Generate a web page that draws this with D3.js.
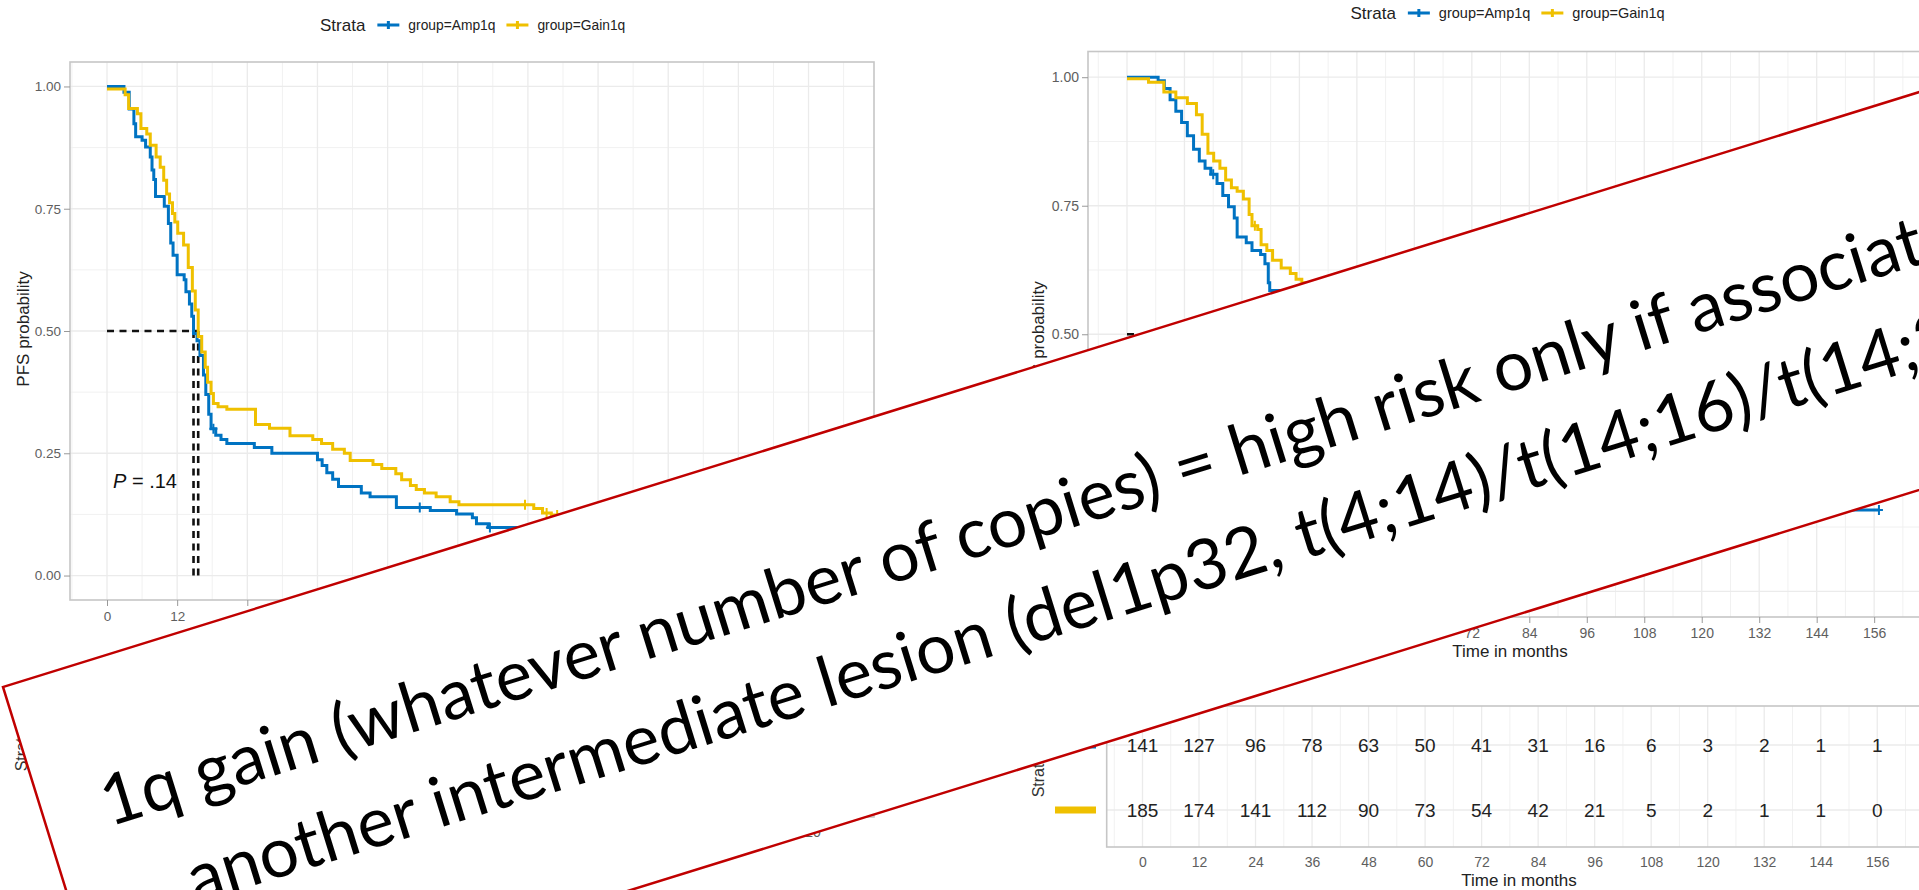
<!DOCTYPE html>
<html>
<head>
<meta charset="utf-8">
<title>PFS - 1q gain</title>
<script src="https://d3js.org/d3.v7.min.js"></script>
<style>
    body { margin: 0; background: #fff; overflow: hidden; }
    svg { display: block; font-family: "Liberation Sans", Arial, sans-serif; }
</style>
</head>
<body>
<svg id="chart" width="1919" height="890"></svg>
<script>
// ---- data ----
const strataLabels = ["group=Amp1q", "group=Gain1q"];
const strataColors = ["#0073C2", "#EFC000"];

const survTicks = [0, 0.25, 0.5, 0.75, 1];
const leftTimeTicks = [0, 12, 24, 36, 48, 60, 72, 84, 96, 108, 120];
const rightTimeTicks = [0, 12, 24, 36, 48, 60, 72, 84, 96, 108, 120, 132, 144, 156];

// left plot (PFS)
const leftAmpTime = [0, 2.9, 3.8, 4.6, 4.9, 6.0, 6.6, 7.4, 7.7, 8.0, 8.3, 9.8, 10.5, 10.9, 11.3, 12.0, 13.2, 13.5, 14.1, 14.5, 14.8, 15.4, 15.9, 16.5, 16.9, 17.4, 17.8, 18.6, 19.5, 20.5, 25.2, 28.2, 36.0, 36.8, 37.6, 38.6, 39.6, 43.5, 45.0, 49.5, 55.3, 59.8, 62.5, 63.2, 65.2, 72];
const leftAmpSurv = [1, 0.988, 0.954, 0.924, 0.897, 0.89, 0.876, 0.856, 0.829, 0.81, 0.775, 0.755, 0.72, 0.68, 0.655, 0.615, 0.605, 0.58, 0.555, 0.53, 0.495, 0.48, 0.45, 0.41, 0.37, 0.33, 0.3, 0.287, 0.278, 0.27, 0.262, 0.25, 0.237, 0.225, 0.21, 0.197, 0.182, 0.169, 0.161, 0.139, 0.133, 0.126, 0.118, 0.106, 0.098, 0.098];
const leftGainTime = [0, 3.1, 3.7, 5.2, 5.8, 6.8, 7.4, 8.4, 9.1, 9.7, 10.2, 10.7, 11.2, 11.6, 12.1, 13.1, 13.9, 14.6, 15.1, 15.6, 16.2, 16.8, 17.2, 17.8, 18.2, 19.0, 20.5, 25.4, 27.8, 31.3, 35.2, 36.7, 38.6, 40.6, 41.6, 45.5, 47.0, 49.4, 50.4, 51.9, 52.9, 54.3, 56.3, 58.7, 60.2, 73.0, 74.5, 76.0, 80];
const leftGainSurv = [0.995, 0.983, 0.955, 0.944, 0.914, 0.903, 0.88, 0.856, 0.835, 0.808, 0.78, 0.762, 0.74, 0.723, 0.70, 0.676, 0.63, 0.582, 0.543, 0.489, 0.457, 0.426, 0.395, 0.372, 0.352, 0.345, 0.34, 0.309, 0.301, 0.286, 0.278, 0.27, 0.258, 0.25, 0.235, 0.227, 0.219, 0.208, 0.196, 0.184, 0.176, 0.169, 0.161, 0.151, 0.145, 0.137, 0.128, 0.124, 0.124];
const leftAmpCensor = [18.2, 53.5, 65.5];
const leftGainCensor = [71.5, 75.2, 77.0];
const leftMedians = [14.8, 15.6];
const leftPValue = ".14";

// right plot (the part under the banner is estimated)
const rightAmpTime = [0, 6.5, 7.8, 9.0, 10.2, 11.4, 12.6, 13.9, 15.1, 16.3, 17.5, 18.8, 20.0, 21.2, 22.4, 23.0, 24.9, 26.1, 27.9, 28.8, 29.5, 29.8, 34, 42, 54, 66, 78, 90, 102, 114, 157];
const rightAmpSurv = [1, 0.993, 0.978, 0.956, 0.934, 0.912, 0.886, 0.86, 0.837, 0.823, 0.811, 0.793, 0.77, 0.748, 0.726, 0.689, 0.678, 0.663, 0.655, 0.637, 0.60, 0.585, 0.5, 0.42, 0.34, 0.28, 0.24, 0.2, 0.18, 0.158, 0.158];
const rightGainTime = [0, 4.5, 7.7, 10.2, 12.6, 14.5, 15.7, 16.9, 18.1, 19.4, 20.6, 21.8, 23.0, 24.3, 25.5, 26.1, 27.3, 28.0, 29.2, 30.4, 32.2, 34.1, 35.3, 36.5, 44, 56, 72, 96, 120, 148];
const rightGainSurv = [0.997, 0.99, 0.971, 0.96, 0.949, 0.927, 0.889, 0.852, 0.837, 0.823, 0.80, 0.785, 0.778, 0.763, 0.733, 0.711, 0.704, 0.674, 0.663, 0.644, 0.629, 0.618, 0.607, 0.60, 0.5, 0.4, 0.3, 0.22, 0.17, 0.17];
const rightAmpCensor = [18.0, 157];
const rightGainCensor = [26.7];
const rightMedians = [34, 44];

// number at risk (right table)
const riskTimes = [0, 12, 24, 36, 48, 60, 72, 84, 96, 108, 120, 132, 144, 156];
const riskAmp = [141, 127, 96, 78, 63, 50, 41, 31, 16, 6, 3, 2, 1, 1];
const riskGain = [185, 174, 141, 112, 90, 73, 54, 42, 21, 5, 2, 1, 1, 0];

const bannerLines = [
    "1q gain (whatever number of copies) = high risk only if associated with",
    "another intermediate lesion (del1p32, t(4;14)/t(14;16)/t(14;20))"
];
// visible part of each line, used to size the text
const bannerFit = [
    "1q gain (whatever number of copies) = high risk only if associat",
    "another intermediate lesion (del1p32, t(4;14)/t(14;16)/t(14;"
];

const svg = d3.select("#chart");
const GRID = "#ebebeb", BORDER = "#c6c6c6", TICKTXT = "#5e5e5e";

function pairs(times, surv) { return times.map((t, i) => [t, surv[i]]); }
function survAt(times, surv, t) {
    const i = d3.bisectRight(times, t) - 1;
    return surv[Math.max(0, i)];
}

function drawKM(o) {
    const x = d3.scaleLinear().domain(o.xDomain).range(o.xRange);
    const y = d3.scaleLinear().domain([-0.05, 1.05]).range(o.yRange);
    const g = svg.append("g");
    const [xl, xr] = o.xRange, [yb, yt] = o.yRange;

    // grid
    const xMinor = d3.range(-6, o.xDomain[1], 12).filter(v => v > o.xDomain[0]);
    const yMinor = [0.125, 0.375, 0.625, 0.875];
    g.selectAll(".vmin").data(xMinor).join("line")
        .attr("x1", d => x(d)).attr("x2", d => x(d)).attr("y1", yt).attr("y2", yb)
        .attr("stroke", "#f1f1f1").attr("stroke-width", 1);
    g.selectAll(".hmin").data(yMinor).join("line")
        .attr("x1", xl).attr("x2", xr).attr("y1", d => y(d)).attr("y2", d => y(d))
        .attr("stroke", "#f1f1f1").attr("stroke-width", 1);
    g.selectAll(".vmaj").data(o.xTicks).join("line")
        .attr("x1", d => x(d)).attr("x2", d => x(d)).attr("y1", yt).attr("y2", yb)
        .attr("stroke", GRID).attr("stroke-width", 1.3);
    g.selectAll(".hmaj").data(survTicks).join("line")
        .attr("x1", xl).attr("x2", xr).attr("y1", d => y(d)).attr("y2", d => y(d))
        .attr("stroke", GRID).attr("stroke-width", 1.3);

    // median lines
    const dash = g.append("g").attr("stroke", "#111").attr("stroke-width", 2.6)
        .attr("stroke-dasharray", "7,5.5").attr("fill", "none");
    dash.append("line").attr("x1", x(0)).attr("x2", x(d3.max(o.medians)))
        .attr("y1", y(0.5)).attr("y2", y(0.5));
    o.medians.forEach(m => {
        dash.append("line").attr("x1", x(m)).attr("x2", x(m))
            .attr("y1", y(0.5)).attr("y2", y(0));
    });

    // curves
    const line = d3.line().curve(d3.curveStepAfter).x(d => x(d[0])).y(d => y(d[1]));
    o.series.forEach((s, i) => {
        g.append("path").datum(pairs(s.time, s.surv))
            .attr("fill", "none").attr("stroke", strataColors[i])
            .attr("stroke-width", 3).attr("d", line);
        g.selectAll(null).data(s.censor).join("path")
            .attr("d", t => {
                const cx = x(t), cy = y(survAt(s.time, s.surv, t));
                return `M${cx},${cy - 5}v10M${cx - 4},${cy}h8`;
            })
            .attr("stroke", strataColors[i]).attr("stroke-width", 2);
    });

    // panel border
    g.append("rect").attr("x", xl).attr("y", yt).attr("width", xr - xl).attr("height", yb - yt)
        .attr("fill", "none").attr("stroke", BORDER).attr("stroke-width", 1.6);

    // axes
    const ay = g.append("g").attr("transform", `translate(${xl},0)`)
        .call(d3.axisLeft(y).tickValues(survTicks).tickFormat(d3.format(".2f")).tickSize(6).tickPadding(3));
    const ax = g.append("g").attr("transform", `translate(0,${yb})`)
        .call(d3.axisBottom(x).tickValues(o.xTicks).tickSize(6).tickPadding(5));
    [ay, ax].forEach(a => {
        a.select(".domain").remove();
        a.selectAll(".tick line").attr("stroke", "#999");
        a.selectAll("text").attr("fill", TICKTXT).attr("font-size", o.tickSize)
            .attr("font-family", "Liberation Sans, Arial, sans-serif");
    });

    g.append("text").attr("transform", `translate(${o.yTitle[0]},${o.yTitle[1]}) rotate(-90)`)
        .attr("text-anchor", "middle").attr("font-size", 17).attr("fill", "#222")
        .text("PFS probability");
    g.append("text").attr("x", o.xTitle[0]).attr("y", o.xTitle[1])
        .attr("text-anchor", "middle").attr("font-size", 17).attr("fill", "#222")
        .text("Time in months");

    // legend
    const lg = g.append("g").attr("font-size", o.legendSize).attr("fill", "#222");
    let cx = o.legend[0];
    const ly = o.legend[1];
    const st = lg.append("text").attr("x", cx).attr("y", ly + 6).attr("font-size", 17).text("Strata");
    cx += st.node().getComputedTextLength() + 12;
    strataLabels.forEach((lab, i) => {
        lg.append("path").attr("d", `M${cx},${ly}h22M${cx + 11},${ly - 4}v8`)
            .attr("stroke", strataColors[i]).attr("stroke-width", 3);
        cx += 31;
        const t = lg.append("text").attr("x", cx).attr("y", ly + 5).text(lab);
        cx += t.node().getComputedTextLength() + 11;
    });

    return { x, y, g };
}

function drawRisk(o) {
    const x = d3.scaleLinear().domain(o.xDomain).range(o.xRange);
    const g = svg.append("g");
    const [xl, xr] = o.xRange, [yt, yb] = o.yRange;
    const xMinor = d3.range(-6, o.xDomain[1], 12).filter(v => v > o.xDomain[0]);
    g.selectAll(".vmin").data(xMinor).join("line")
        .attr("x1", d => x(d)).attr("x2", d => x(d)).attr("y1", yt).attr("y2", yb)
        .attr("stroke", "#f1f1f1");
    g.selectAll(".vmaj").data(o.xTicks).join("line")
        .attr("x1", d => x(d)).attr("x2", d => x(d)).attr("y1", yt).attr("y2", yb)
        .attr("stroke", GRID).attr("stroke-width", 1.3);
    g.selectAll(".hrow").data(o.rowY).join("line")
        .attr("x1", xl).attr("x2", xr).attr("y1", d => d).attr("y2", d => d)
        .attr("stroke", GRID).attr("stroke-width", 1.3);
    g.append("rect").attr("x", xl).attr("y", yt).attr("width", xr - xl).attr("height", yb - yt)
        .attr("fill", "none").attr("stroke", BORDER).attr("stroke-width", 1.6);

    o.rows.forEach((vals, r) => {
        g.append("rect").attr("x", o.barX[0]).attr("y", o.rowY[r] - 3.5)
            .attr("width", o.barX[1] - o.barX[0]).attr("height", 7).attr("fill", strataColors[r]);
        if (!vals) return;
        g.selectAll(null).data(vals).join("text")
            .attr("x", (d, i) => x(riskTimes[i])).attr("y", o.rowY[r] + 7)
            .attr("text-anchor", "middle").attr("font-size", 19).attr("fill", "#222")
            .text(d => d);
    });

    const ax = g.append("g").attr("transform", `translate(0,${yb})`)
        .call(d3.axisBottom(x).tickValues(o.xTicks).tickSize(0).tickPadding(10));
    ax.select(".domain").remove();
    ax.selectAll("text").attr("fill", TICKTXT).attr("font-size", 14)
        .attr("font-family", "Liberation Sans, Arial, sans-serif");

    g.append("text").attr("x", o.xTitle[0]).attr("y", o.xTitle[1])
        .attr("text-anchor", "middle").attr("font-size", 17).attr("fill", "#222")
        .text("Time in months");
    g.append("text").attr("transform", `translate(${o.strata[0]},${o.strata[1]}) rotate(-90)`)
        .attr("text-anchor", "middle").attr("font-size", 16).attr("fill", "#333")
        .text("Strata");
}

// left survival plot
drawKM({
    xDomain: [-6.33, 131.2], xRange: [70, 874], yRange: [600, 62],
    xTicks: leftTimeTicks, medians: leftMedians, tickSize: 13.5,
    series: [
        { time: leftAmpTime, surv: leftAmpSurv, censor: leftAmpCensor },
        { time: leftGainTime, surv: leftGainSurv, censor: leftGainCensor }
    ],
    yTitle: [28.5, 329], xTitle: [472, 640], legend: [320, 25], legendSize: 13.8
});
svg.append("text").attr("x", 113).attr("y", 488).attr("font-size", 20).attr("fill", "#111")
    .call(t => {
        t.append("tspan").attr("font-style", "italic").text("P");
        t.append("tspan").text(" = " + leftPValue);
    });

// right survival plot
drawKM({
    xDomain: [-8.14, 171], xRange: [1088, 1946], yRange: [617, 51.5],
    xTicks: rightTimeTicks, medians: rightMedians, tickSize: 14,
    series: [
        { time: rightAmpTime, surv: rightAmpSurv, censor: rightAmpCensor },
        { time: rightGainTime, surv: rightGainSurv, censor: rightGainCensor }
    ],
    yTitle: [1044, 339], xTitle: [1510, 657], legend: [1350.5, 13], legendSize: 14.5
});

// risk tables
drawRisk({
    xDomain: [-7.6, 171], xRange: [1106.7, 1947.9], yRange: [706, 847],
    xTicks: rightTimeTicks, rowY: [745, 810], rows: [riskAmp, riskGain],
    barX: [1055, 1096], xTitle: [1519, 886], strata: [1044, 776]
});
drawRisk({
    xDomain: [-6.33, 131.2], xRange: [70, 874], yRange: [676, 817],
    xTicks: leftTimeTicks, rowY: [715, 780], rows: [null, null],
    barX: [36, 62], xTitle: [472, 856], strata: [27, 750]
});

// banner on top
const banner = svg.append("g").attr("transform", "translate(3,687) rotate(-17.25)");
banner.append("rect").attr("x", 0).attr("y", 0).attr("width", 2400).attr("height", 380)
    .attr("fill", "#fff").attr("stroke", "#c00000").attr("stroke-width", 2.5);

const bannerFont = "Lato, 'Open Sans', sans-serif";
const probe = banner.append("text").attr("font-family", bannerFont).attr("font-size", 72).text(bannerFit[0]);
const fs = 72 * 1905 / probe.node().getComputedTextLength();
probe.text(bannerFit[1]).attr("font-size", fs);
const w2 = probe.node().getComputedTextLength();
probe.remove();

const bannerX = [60, 1928 - w2];
const bannerY = [165, 264];
banner.selectAll(".bl").data(bannerLines).join("text")
    .attr("x", (d, i) => bannerX[i]).attr("y", (d, i) => bannerY[i])
    .attr("font-family", bannerFont).attr("font-size", fs).attr("fill", "#000")
    .text(d => d);
</script>
</body>
</html>
